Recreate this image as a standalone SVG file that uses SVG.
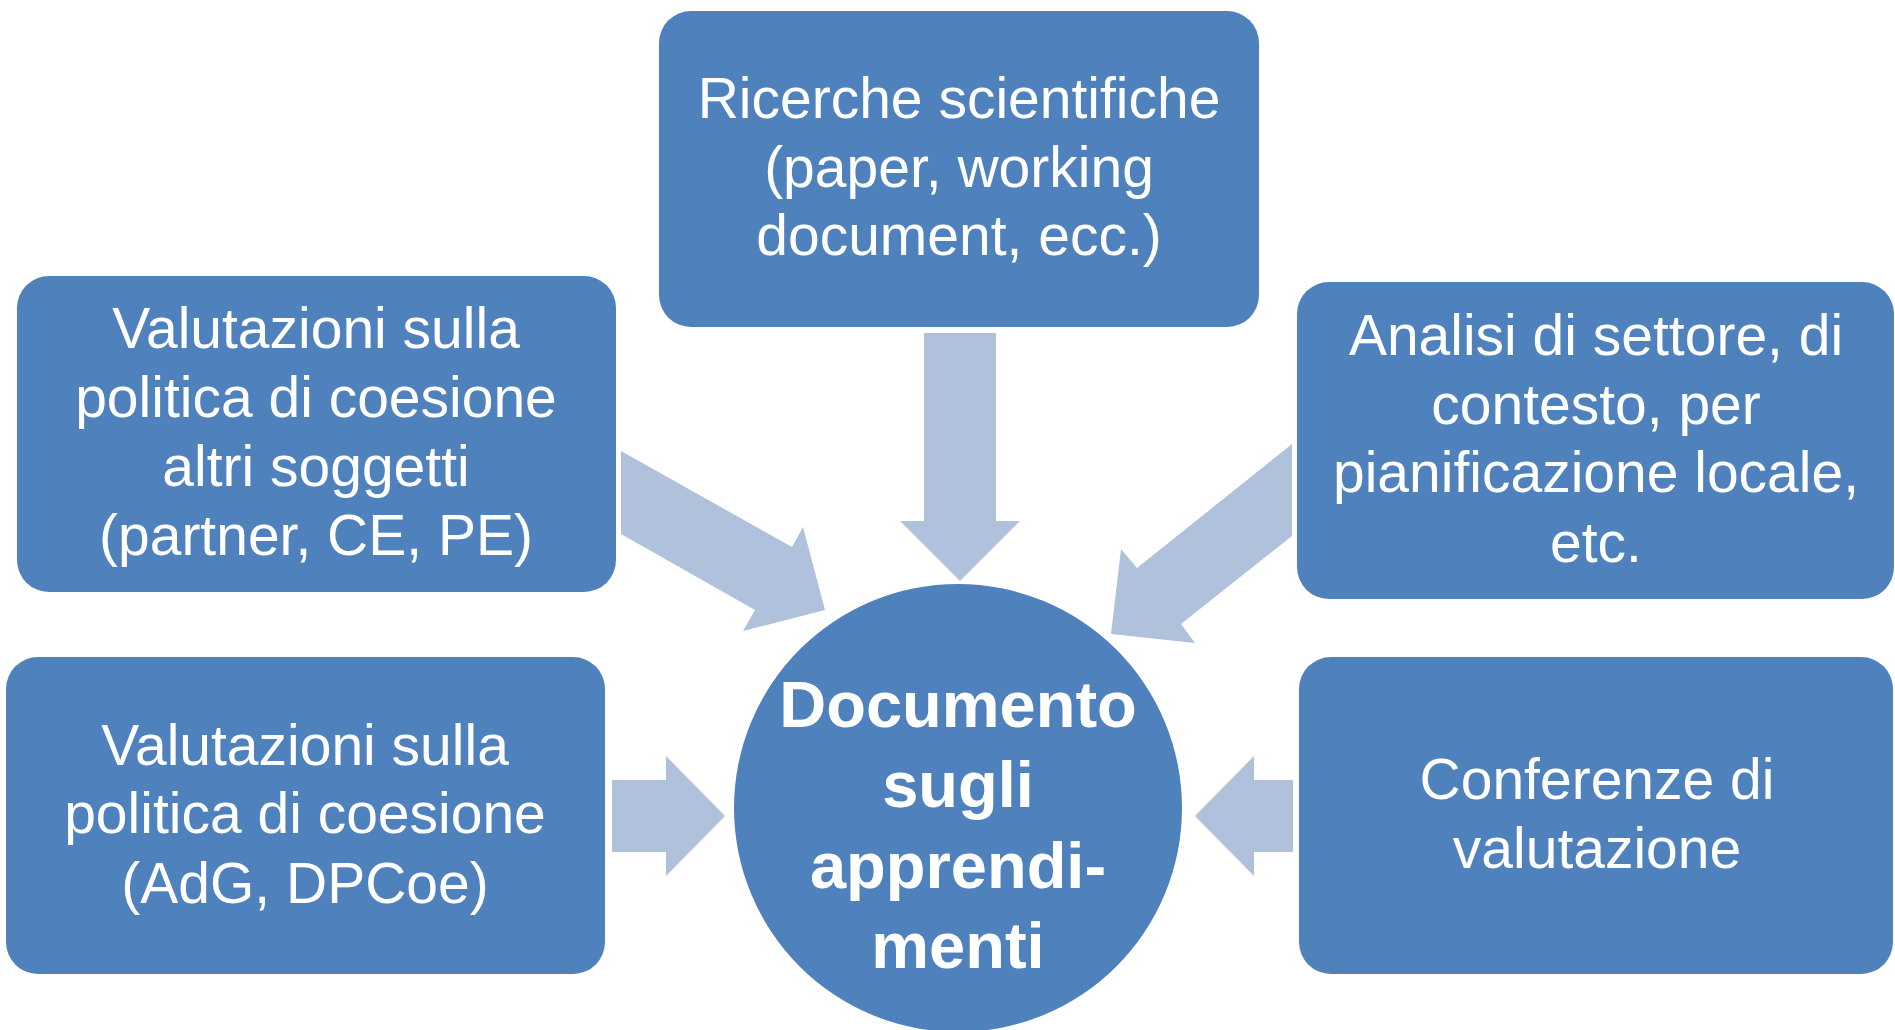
<svg xmlns="http://www.w3.org/2000/svg" width="1895" height="1030" viewBox="0 0 1895 1030">
  <style>
    .box { fill: #4F81BD; }
    .arrow { fill: #B0C1DC; }
    .t { font-family: "Liberation Sans", Arial, sans-serif; font-size: 57px; fill: #FFFFFF; text-anchor: middle; }
    .tb { font-family: "Liberation Sans", Arial, sans-serif; font-size: 65px; font-weight: bold; fill: #FFFFFF; text-anchor: middle; }
  </style>
  <rect width="1895" height="1030" fill="#FFFFFF"/>

  <g id="connectors">
    <polygon class="arrow" points="924,333 996,333 996,521 1020,521 960,581 900,521 924,521"/>
    <polygon class="arrow" points="621,451 792,547 803,527 825,610 743,631 755,610 621,534"/>
    <polygon class="arrow" points="1292,444 1137,568 1121,549 1111,634 1195,643 1181,624 1292,536"/>
    <polygon class="arrow" points="612,780 666,780 666,756 725,816 666,876 666,852 612,852"/>
    <polygon class="arrow" points="1293,780 1254,780 1254,756 1195,816 1254,876 1254,852 1293,852"/>
  </g>

  <g id="node-ricerche">
    <rect class="box" x="659" y="11" width="600" height="316" rx="32" ry="32"/>
    <text class="t" x="959" y="118">Ricerche scientifiche</text>
    <text class="t" x="959" y="187">(paper, working</text>
    <text class="t" x="959" y="255">document, ecc.)</text>
  </g>

  <g id="node-valutazioni-altri">
    <rect class="box" x="17" y="276" width="599" height="316" rx="32" ry="32"/>
    <text class="t" x="316" y="348">Valutazioni sulla</text>
    <text class="t" x="316" y="417">politica di coesione</text>
    <text class="t" x="316" y="486">altri soggetti</text>
    <text class="t" x="316" y="555">(partner, CE, PE)</text>
  </g>

  <g id="node-analisi">
    <rect class="box" x="1297" y="282" width="597" height="317" rx="32" ry="32"/>
    <text class="t" x="1596" y="355">Analisi di settore, di</text>
    <text class="t" x="1596" y="424">contesto, per</text>
    <text class="t" x="1596" y="492">pianificazione locale,</text>
    <text class="t" x="1596" y="562">etc.</text>
  </g>

  <g id="node-valutazioni-adg">
    <rect class="box" x="6" y="657" width="599" height="317" rx="32" ry="32"/>
    <text class="t" x="305" y="765">Valutazioni sulla</text>
    <text class="t" x="305" y="833">politica di coesione</text>
    <text class="t" x="305" y="903">(AdG, DPCoe)</text>
  </g>

  <g id="node-conferenze">
    <rect class="box" x="1299" y="657" width="594" height="317" rx="32" ry="32"/>
    <text class="t" x="1597" y="799">Conferenze di</text>
    <text class="t" x="1597" y="868">valutazione</text>
  </g>

  <g id="node-documento">
    <circle class="box" cx="958" cy="808" r="224"/>
    <text class="tb" x="958" y="727">Documento</text>
    <text class="tb" x="958" y="807">sugli</text>
    <text class="tb" x="958" y="888">apprendi-</text>
    <text class="tb" x="958" y="968">menti</text>
  </g>
</svg>
